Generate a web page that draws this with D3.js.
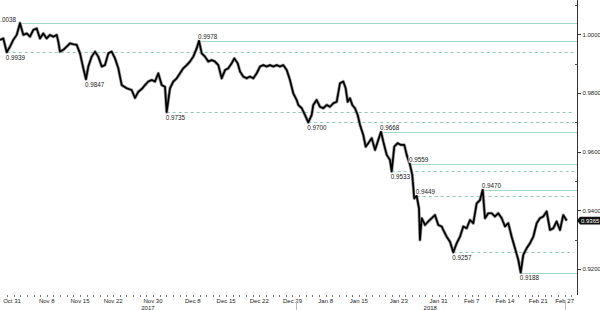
<!DOCTYPE html>
<html><head><meta charset="utf-8">
<script src="https://cdn.jsdelivr.net/npm/d3@7"></script>
<style>html,body{margin:0;padding:0;background:#fff;overflow:hidden;} svg{display:block;}</style>
</head><body><svg id="c" width="600" height="310"></svg>
<script>
// trading-day index (0 = Oct 31 2017) and EUR/CHF-style price
const days = [-1.05,-0.55,-0.04,0.46,0.95,1.47,1.96,2.46,2.97,3.47,3.97,4.48,4.97,5.47,5.98,6.48,6.98,7.49,7.73,7.99,8.48,8.99,9.49,9.99,10.5,11.0,11.5,11.9,12.25,12.76,13.26,13.75,14.27,14.76,15.26,15.77,16.27,16.77,17.28,18.03,18.78,19.28,19.78,20.4,20.79,21.28,21.8,22.29,22.79,23.3,23.8,24.05,24.55,25.05,25.56,26.06,26.55,27.07,27.56,28.06,28.57,28.92,29.33,29.82,30.32,30.83,31.33,31.83,32.34,32.84,33.33,33.84,34.24,34.75,35.1,35.59,36.1,36.6,37.1,37.61,38.11,38.6,39.11,39.61,40.11,40.62,41.12,41.62,42.13,42.62,43.12,43.63,43.88,44.39,44.88,45.38,45.89,46.13,46.64,47.14,47.64,48.15,48.65,49.15,49.66,50.15,50.65,51.01,51.31,51.66,52.01,52.41,52.82,53.17,53.66,54.02,54.42,54.93,55.43,55.92,56.33,56.68,57.19,57.68,57.94,58.33,58.84,59.34,59.84,60.2,60.7,61.04,61.34,61.7,62.05,62.2,62.46,62.96,63.45,63.96,64.46,64.96,65.47,65.71,66.22,66.72,67.22,67.73,68.23,68.72,69.24,69.73,70.23,70.74,71.24,71.65,71.99,72.49,73.0,73.5,73.99,74.51,75.0,75.5,76.01,76.51,77.01,77.37,77.76,78.27,78.77,79.27,79.78,80.27,80.77,81.28,81.78,82.28,82.79,83.29,83.78,84.3];
const prices = [0.9981,0.9986,0.9939,0.9958,0.9981,0.9998,1.0038,0.9998,1.0003,0.9992,1.0015,1.0020,0.9986,1.0003,0.9986,0.9998,0.9992,0.9998,0.9975,0.9941,0.9947,0.9958,0.9969,0.9966,0.9964,0.9935,0.9884,0.9847,0.9890,0.9924,0.9941,0.9924,0.9890,0.9895,0.9935,0.9941,0.9918,0.9884,0.9827,0.9816,0.9810,0.9783,0.9804,0.9816,0.9827,0.9839,0.9844,0.9839,0.9867,0.9827,0.9821,0.9735,0.9816,0.9839,0.9850,0.9867,0.9884,0.9895,0.9907,0.9924,0.9952,0.9978,0.9935,0.9924,0.9907,0.9912,0.9907,0.9895,0.9850,0.9878,0.9884,0.9901,0.9918,0.9901,0.9873,0.9856,0.9850,0.9856,0.9850,0.9867,0.9890,0.9895,0.9890,0.9895,0.9890,0.9895,0.9890,0.9895,0.9878,0.9844,0.9799,0.9776,0.9759,0.9748,0.9725,0.9700,0.9725,0.9759,0.9776,0.9753,0.9748,0.9759,0.9753,0.9765,0.9770,0.9833,0.9839,0.9816,0.9770,0.9782,0.9759,0.9748,0.9725,0.9691,0.9657,0.9617,0.9629,0.9646,0.9606,0.9640,0.9668,0.9634,0.9589,0.9572,0.9533,0.9617,0.9629,0.9623,0.9623,0.9589,0.9555,0.9521,0.9441,0.9449,0.9407,0.9299,0.9373,0.9350,0.9362,0.9373,0.9384,0.9350,0.9345,0.9333,0.9310,0.9293,0.9257,0.9288,0.9310,0.9345,0.9339,0.9367,0.9356,0.9424,0.9435,0.9470,0.9373,0.9390,0.9390,0.9379,0.9390,0.9373,0.9345,0.9356,0.9310,0.9271,0.9231,0.9188,0.9248,0.9271,0.9288,0.9310,0.9356,0.9373,0.9379,0.9396,0.9333,0.9339,0.9362,0.9333,0.9384,0.9365];

// marked swing levels
const levelValues = [1.0038,0.9939,0.9847,0.9978,0.9735,0.9700,0.9668,0.9533,0.9559,0.9449,0.9470,0.9257,0.9188];
const levelDays   = [1.96,-0.04,11.9,28.92,24.05,45.38,56.33,57.94,60.7,61.7,71.65,67.22,77.37];
const levelKinds  = ["high","low","low","high","low","low","high","low","high","high","high","low","low"];
const levelLines  = ["solid","dashed","none","solid","dashed","dashed","solid","dashed","solid","dashed","solid","dashed","solid"];

const yTicks = [0.92,0.94,0.96,0.98,1.00];
const yMinorTicks = [0.93,0.95,0.97,0.99,1.01];
const tickDays = [0,6,11,16,22,28,33,38,43,48,53,59,65,70,75,80,84];
const tickLabels = ["Oct 31","Nov 8","Nov 15","Nov 22","Nov 30","Dec 8","Dec 15","Dec 22","Dec 29","Jan 8","Jan 15","Jan 23","Jan 31","Feb 7","Feb 14","Feb 21","Feb 27"];
const yearLabels = ["2017","2018"];
const yearStart = [-1.05,43.5];
const yearEnd = [43.5,84];
const lastPrice = 0.9365;

const svg = d3.select("#c");
const W = 577;
const x = d3.scaleLinear().domain([-1.05, 85.85]).range([0, W]);
const y = d3.scaleLinear().domain([0.92, 1.00]).range([269, 34.3]);
const FONT = "'Liberation Sans', Arial, sans-serif";
const SOLID = "#a3d9c6", DASH = "#8fc9b4";

// level lines
const lv = levelValues.map((v,i)=>({v, d:levelDays[i], kind:levelKinds[i], line:levelLines[i]}));
svg.append("g").selectAll("line").data(lv.filter(d=>d.line!=="none")).join("line")
  .attr("x1", d=>x(d.d)).attr("x2", d=>d.line==="solid"?W:W-3)
  .attr("y1", d=>Math.round(y(d.v))+0.5).attr("y2", d=>Math.round(y(d.v))+0.5)
  .attr("stroke", d=>d.line==="solid"?SOLID:DASH)
  .attr("stroke-width", d=>d.line==="solid"?1.2:1)
  .attr("stroke-dasharray", d=>d.line==="dashed"?"3,3":null);

// price series
const pts = days.map((d,i)=>[d, prices[i]]);
const line = d3.line().x(d=>x(d[0])).y(d=>y(d[1]));
svg.append("path").datum(pts).attr("d", line).attr("fill","none")
  .attr("stroke","#9a9a9a").attr("stroke-width",3.2).attr("stroke-linejoin","round");
svg.append("path").datum(pts).attr("d", line).attr("fill","none")
  .attr("stroke","#000").attr("stroke-width",1.7).attr("stroke-linejoin","round");

// level labels
const lg = svg.append("g").attr("font-family", FONT).attr("font-size", 6.3).attr("fill","#222");
lv.forEach(d=>{
  const yy = y(d.v);
  const anchorEnd = d.v === 1.0038;
  const tx = anchorEnd ? x(d.d) - 4 : x(d.d) - 1;
  const ty = d.kind==="high" ? yy - 1.5 : yy + 7.5;
  const t = lg.append("text").attr("x", tx).attr("y", ty)
    .attr("text-anchor", anchorEnd ? "end" : "start").text(d.v.toFixed(4));
  if (d.kind==="high") {
    const b = t.node().getBBox();
    lg.insert("rect", "text").attr("x", b.x-0.5).attr("y", b.y+0.5).attr("width", b.width+1).attr("height", b.height-1).attr("fill","#fff");
  }
});

// right axis
const ax = svg.append("g");
ax.append("line").attr("x1",W+0.5).attr("x2",W+0.5).attr("y1",0).attr("y2",295).attr("stroke","#333").attr("stroke-width",1);
ax.selectAll("line.maj").data(yTicks).join("line").attr("class","maj")
  .attr("x1",W).attr("x2",W+4).attr("y1",d=>Math.round(y(d))+0.5).attr("y2",d=>Math.round(y(d))+0.5).attr("stroke","#333");
ax.selectAll("line.min").data(yMinorTicks).join("line").attr("class","min")
  .attr("x1",W-2).attr("x2",W+0.5).attr("y1",d=>Math.round(y(d))+0.5).attr("y2",d=>Math.round(y(d))+0.5).attr("stroke","#555");
ax.selectAll("text").data(yTicks).join("text")
  .attr("x",W+5.5).attr("y",d=>y(d)+2.2).attr("font-family",FONT).attr("font-size",6).attr("fill","#222")
  .text(d=>d3.format(".4f")(d));

// last price tag
const ly = y(lastPrice);
svg.append("path").attr("d",`M${W},${ly} L${W+3},${ly-3.8} L600,${ly-3.8} L600,${ly+3.8} L${W+3},${ly+3.8} Z`).attr("fill","#111");
svg.append("text").attr("x",W+4).attr("y",ly+2.2).attr("font-family",FONT).attr("font-size",6).attr("fill","#fff").text(lastPrice.toFixed(4));

// bottom axis
const bx = svg.append("g");
bx.selectAll("line.day").data(d3.range(0,86)).join("line").attr("class","day")
  .attr("x1",d=>Math.round(x(d))+0.5).attr("x2",d=>Math.round(x(d))+0.5).attr("y1",295).attr("y2",297).attr("stroke","#777");
bx.selectAll("text.tl").data(tickDays).join("text").attr("class","tl")
  .attr("x",(d,i)=>Math.max(x(d), 12)).attr("y",303).attr("text-anchor","middle")
  .attr("font-family",FONT).attr("font-size",6).attr("fill","#222").text((d,i)=>tickLabels[i]);
bx.selectAll("text.yr").data(yearLabels).join("text").attr("class","yr")
  .attr("x",(d,i)=>(Math.max(x(yearStart[i]),0)+x(yearEnd[i]))/2).attr("y",309.5).attr("text-anchor","middle")
  .attr("font-family",FONT).attr("font-size",6).attr("fill","#222").text(d=>d);
bx.selectAll("line.sep").data(yearEnd).join("line").attr("class","sep")
  .attr("x1",d=>Math.round(x(d))+0.5).attr("x2",d=>Math.round(x(d))+0.5).attr("y1",302).attr("y2",310).attr("stroke","#bbb");
</script></body></html>
